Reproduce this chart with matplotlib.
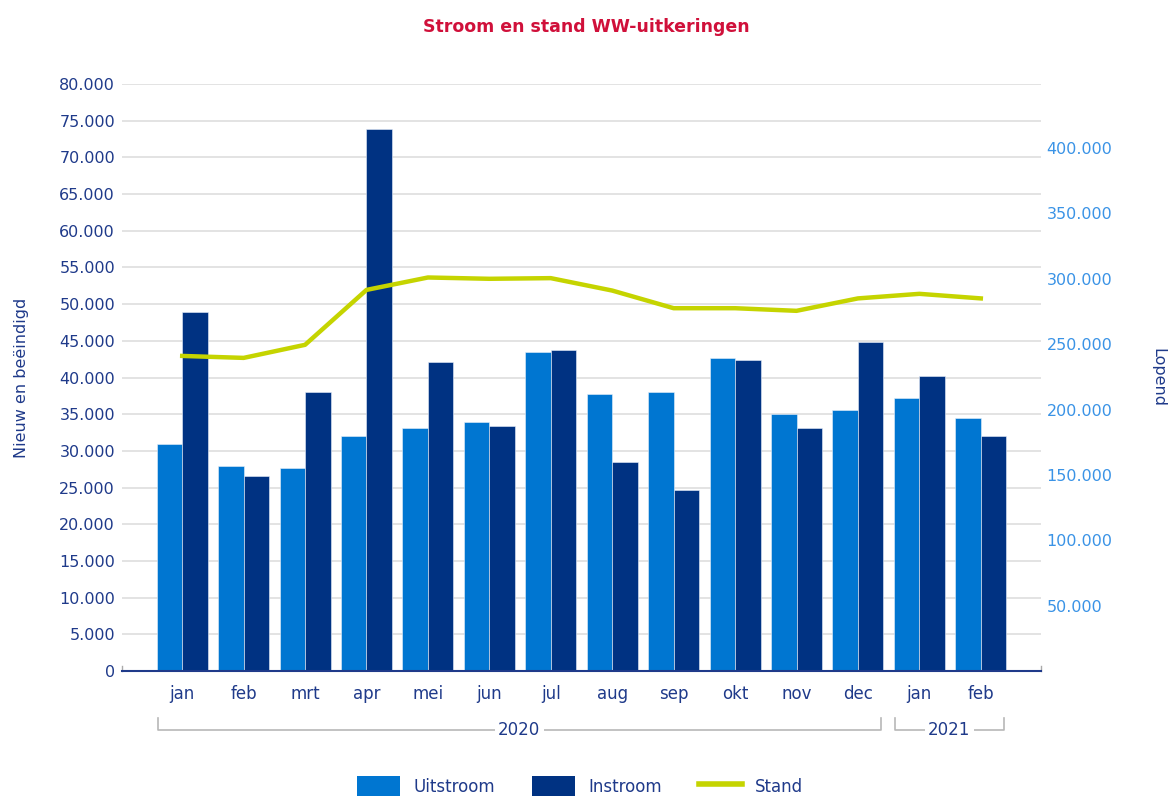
import matplotlib
matplotlib.use("Agg")
import matplotlib.pyplot as plt
from matplotlib.ticker import FuncFormatter, FixedLocator, MultipleLocator
from matplotlib.lines import Line2D
from matplotlib.patches import Patch
import numpy as np

months = ['jan', 'feb', 'mrt', 'apr', 'mei', 'jun', 'jul', 'aug', 'sep', 'okt', 'nov', 'dec', 'jan', 'feb']
years = ['2020'] * 12 + ['2021'] * 2
uitstroom = [31000, 28000, 27700, 32000, 33100, 33900, 43500, 37800, 38000, 42700, 35000, 35600, 37200, 34500]
instroom = [48900, 26600, 38000, 73800, 42100, 33400, 43700, 28500, 24700, 42400, 33100, 44800, 40200, 32000]
stand = [241000, 239500, 249500, 291500, 301000, 300000, 300500, 291000, 277500, 277500, 275500, 285000, 288500, 285000]

C_UIT = '#0076d1'
C_IN = '#003282'
C_STAND = '#c5d400'
C_NAVY = '#1f3a8a'
C_LIGHT = '#3a93e6'
C_GRID = '#e0e0e0'
C_TITLE = '#d0103a'

def fmt(v, pos=None):
    return f"{v:,.0f}".replace(',', '.')

fig = plt.figure(figsize=(11.75, 7.98), dpi=100)
ax = fig.add_axes([122 / 1175, 1 - 671 / 798, (1041 - 122) / 1175, (671 - 84) / 798])

x = np.arange(len(months))
w = 0.415
ax.bar(x - w / 2, uitstroom, width=w, color=C_UIT, edgecolor='#e8f0fa', linewidth=0.4, zorder=3, label='Uitstroom')
ax.bar(x + w / 2, instroom, width=w, color=C_IN, edgecolor='#e8f0fa', linewidth=0.4, zorder=3, label='Instroom')

ax.set_xlim(-0.98, len(months) - 1 + 0.98)
ax.set_ylim(0, 80000)
ax.yaxis.set_major_locator(MultipleLocator(5000))
ax.yaxis.set_major_formatter(FuncFormatter(fmt))
ax.grid(axis='y', color=C_GRID, linewidth=1.3, zorder=0)
ax.set_axisbelow(True)
for s in ['top', 'right', 'left']:
    ax.spines[s].set_visible(False)
ax.spines['bottom'].set_color(C_NAVY)
ax.spines['bottom'].set_linewidth(1.5)
ax.spines['bottom'].set_zorder(5)
ax.tick_params(axis='y', length=0, pad=5, labelsize=11.5, labelcolor=C_NAVY)
ax.set_xticks(x)
ax.set_xticklabels(months)
ax.tick_params(axis='x', length=0, pad=10, labelsize=12, labelcolor=C_NAVY)
ax.set_ylabel('Nieuw en beëindigd', color=C_NAVY, fontsize=11.5, labelpad=22)

# small end ticks on baseline
trans = ax.get_xaxis_transform()
for xe in ax.get_xlim():
    ax.plot([xe, xe], [0, 0.008], transform=trans, color='#aaaaaa', lw=1, clip_on=False)

# Year brackets
groups = []
for i, yname in enumerate(years):
    if groups and groups[-1][0] == yname:
        groups[-1][2] = i
    else:
        groups.append([yname, i, i])
for yname, i0, i1 in groups:
    xl, xr = i0 - 0.40, i1 + 0.37
    ax.plot([xl, xl, xr, xr], [-0.080, -0.1005, -0.1005, -0.080], transform=trans,
            color='#b8b8b8', lw=1.2, clip_on=False)
    ax.text((xl + xr) / 2, -0.1005, yname, transform=trans, ha='center', va='center',
            fontsize=12, color=C_NAVY,
            bbox=dict(boxstyle='square,pad=0.2', facecolor='white', edgecolor='none'))

ax2 = ax.twinx()
ax2.plot(x, stand, color=C_STAND, linewidth=3.2, solid_joinstyle='round', zorder=4, label='Stand')
ax2.set_ylim(0, 449000)
ax2.yaxis.set_major_locator(FixedLocator(np.arange(50000, 400001, 50000)))
ax2.yaxis.set_major_formatter(FuncFormatter(fmt))
ax2.tick_params(axis='y', length=0, pad=4, labelsize=11.5, labelcolor=C_LIGHT)
for s in ['top', 'right', 'left', 'bottom']:
    ax2.spines[s].set_visible(False)
ax2.set_ylabel('Lopend', color=C_NAVY, fontsize=11.5, rotation=-90, labelpad=38)

fig.text(586 / 1175, 1 - 27 / 798, 'Stroom en stand WW-uitkeringen', ha='center', va='center',
         fontsize=12.5, fontweight='bold', color=C_TITLE)

handles = [Patch(facecolor=C_UIT, edgecolor='none'), Patch(facecolor=C_IN, edgecolor='none'),
           Line2D([0], [0], color=C_STAND, lw=4)]
fig.legend(handles, ['Uitstroom', 'Instroom', 'Stand'], loc='center', bbox_to_anchor=(580 / 1175, 1 - 786 / 798),
           ncol=3, frameon=False, fontsize=12, labelcolor=C_NAVY, handlelength=2.6, handleheight=1.4,
           columnspacing=2.2, handletextpad=0.8)

fig.savefig('out.png', dpi=100)
